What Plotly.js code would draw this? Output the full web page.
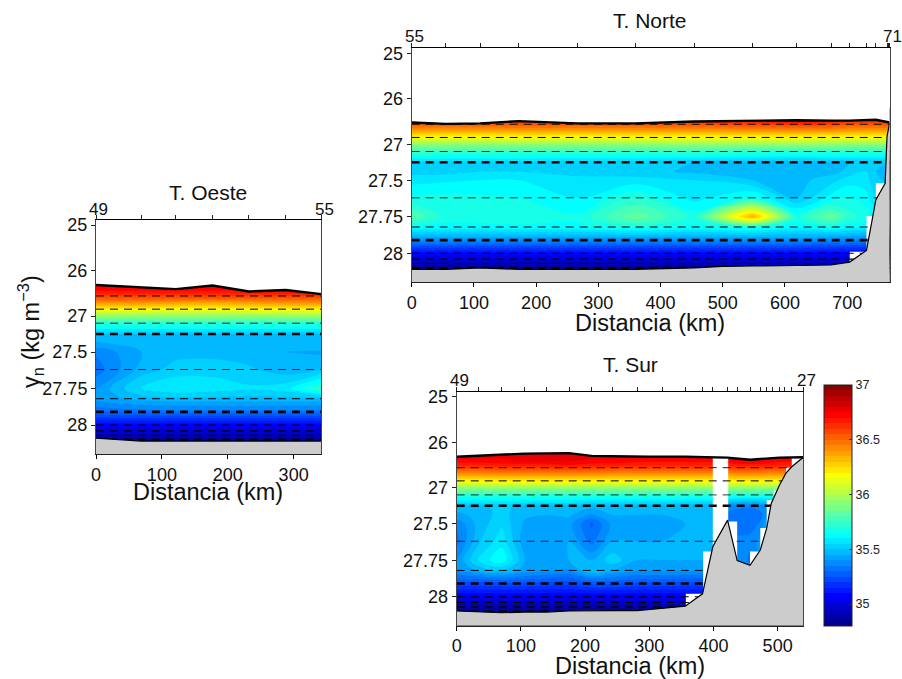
<!DOCTYPE html>
<html><head><meta charset="utf-8">
<script src="https://cdn.plot.ly/plotly-3.0.1.min.js"></script>
<style>html,body{margin:0;padding:0;background:#fff}#c{width:902px;height:679px}</style>
</head><body><div id="c"></div>
<script>
// ---------- DATA (km along section, neutral density, salinity) ----------
const yTickG = [25, 26, 27, 27.5, 27.75, 28];
const yTickText = ['25', '26', '27', '27.5', '27.75', '28'];
const dashG = [26.56, 26.85, 27.1, 27.25, 27.62, 27.82, 27.91, 28, 28.04, 28.07, 28.1];
const rowsG = [26.2, 26.4, 26.5, 26.6, 26.7, 26.85, 27, 27.1, 27.25, 27.38, 27.5, 27.62, 27.75, 27.82, 27.9, 28, 28.05, 28.1, 28.25];

// T. Norte
const northStations = [0, 55, 110, 172, 266, 360, 454, 548, 619, 674, 704, 731, 746, 764, 766, 768];
const northCols = [0, 55, 110, 172, 266, 360, 454, 548, 619, 674, 704, 731, 746, 768];
const northSurfKm = [0, 55, 110, 172, 266, 360, 454, 548, 619, 674, 704, 746, 768];
const northSurfG = [26.52, 26.55, 26.54, 26.49, 26.54, 26.54, 26.5, 26.48, 26.47, 26.48, 26.48, 26.46, 26.52];
const northBotKm = [0, 55, 110, 172, 266, 360, 454, 500, 548, 619, 674, 704, 731, 741, 746, 761, 764, 768];
const northBotG = [28.11, 28.11, 28.1, 28.11, 28.11, 28.11, 28.1, 28.09, 28.087, 28.085, 28.08, 28.06, 27.98, 27.75, 27.635, 27.52, 26.83, 26.54];
const northGapKm = [704, 731, 731, 704, null, 731, 746, 746, 731, null, 746, 761, 761, 746];
const northGapG = [27.99, 27.99, 28.1, 28.1, null, 27.745, 27.745, 28.0, 28.0, null, 27.52, 27.52, 27.8, 27.8];
const northZ = [
 [36.70,36.70,36.70,36.70,36.70,36.70,36.70,36.74,36.76,36.74,36.70,36.70,36.70,36.70],
 [36.68,36.68,36.68,36.68,36.68,36.68,36.68,36.72,36.74,36.72,36.68,36.68,36.68,36.68],
 [36.62,36.60,36.62,36.63,36.62,36.62,36.64,36.66,36.70,36.66,36.62,36.62,36.62,36.62],
 [36.50,36.49,36.49,36.50,36.50,36.50,36.51,36.53,36.55,36.53,36.50,36.50,36.50,36.50],
 [36.38,36.37,36.37,36.38,36.38,36.38,36.39,36.40,36.41,36.40,36.39,36.38,36.38,36.38],
 [36.17,36.16,36.16,36.17,36.16,36.17,36.17,36.18,36.18,36.17,36.17,36.17,36.16,36.16],
 [35.94,35.93,35.93,35.94,35.93,35.94,35.95,35.95,35.95,35.94,35.93,35.93,35.93,35.93],
 [35.76,35.75,35.75,35.75,35.74,35.74,35.74,35.72,35.72,35.72,35.72,35.72,35.72,35.72],
 [35.54,35.53,35.53,35.53,35.52,35.52,35.50,35.49,35.47,35.49,35.50,35.50,35.50,35.50],
 [35.53,35.53,35.55,35.55,35.53,35.52,35.49,35.47,35.46,35.48,35.52,35.55,35.50,35.47],
 [35.58,35.59,35.60,35.60,35.57,35.57,35.55,35.50,35.48,35.53,35.58,35.57,35.51,35.49],
 [35.66,35.67,35.66,35.65,35.60,35.70,35.58,35.66,35.50,35.62,35.65,35.62,35.55,35.50],
 [35.80,35.68,35.68,35.68,35.66,35.84,35.68,36.36,35.68,35.84,35.72,35.68,35.60,35.55],
 [35.64,35.63,35.63,35.64,35.64,35.68,35.64,35.68,35.62,35.66,35.62,35.60,35.55,35.50],
 [35.42,35.42,35.42,35.42,35.42,35.42,35.42,35.42,35.42,35.40,35.40,35.38,35.36,35.35],
 [35.08,35.08,35.08,35.08,35.08,35.08,35.08,35.08,35.08,35.07,35.07,35.07,35.06,35.06],
 [34.97,34.97,34.97,34.97,34.97,34.97,34.97,34.97,34.97,34.97,34.97,34.97,34.96,34.96],
 [34.86,34.86,34.86,34.86,34.86,34.86,34.86,34.86,34.86,34.86,34.86,34.86,34.86,34.86],
 [34.82,34.82,34.82,34.82,34.82,34.82,34.82,34.82,34.82,34.82,34.82,34.82,34.82,34.82]
];

// T. Oeste
const westStations = [0, 69, 121, 177, 232, 288, 342];
const westSurfG = [26.32, 26.37, 26.41, 26.33, 26.46, 26.43, 26.52];
const westBotKm = [0, 69, 121, 177, 232, 288, 342];
const westBotG = [28.09, 28.11, 28.11, 28.11, 28.11, 28.11, 28.11];
const westZ = [
 [36.78,36.78,36.78,36.78,36.78,36.78,36.78],
 [36.73,36.73,36.73,36.73,36.73,36.73,36.73],
 [36.66,36.66,36.66,36.66,36.66,36.68,36.66],
 [36.55,36.55,36.55,36.55,36.55,36.55,36.55],
 [36.42,36.42,36.40,36.38,36.40,36.42,36.42],
 [36.19,36.19,36.17,36.17,36.19,36.19,36.20],
 [35.94,35.93,35.93,35.93,35.93,35.94,35.94],
 [35.72,35.72,35.72,35.72,35.72,35.72,35.72],
 [35.50,35.50,35.50,35.50,35.50,35.50,35.50],
 [35.44,35.48,35.49,35.49,35.48,35.48,35.49],
 [35.36,35.45,35.48,35.48,35.47,35.45,35.44],
 [35.32,35.47,35.52,35.53,35.51,35.47,35.50],
 [35.40,35.56,35.60,35.58,35.56,35.58,35.72],
 [35.42,35.47,35.48,35.48,35.48,35.48,35.48],
 [35.32,35.34,35.35,35.35,35.35,35.35,35.35],
 [35.07,35.07,35.07,35.07,35.07,35.07,35.07],
 [34.97,34.97,34.97,34.97,34.97,34.97,34.97],
 [34.86,34.86,34.86,34.86,34.86,34.86,34.86],
 [34.82,34.82,34.82,34.82,34.82,34.82,34.82]
];

// T. Sur
const southStations = [0, 34, 70, 106, 140, 175, 210, 243, 281, 320, 356, 383, 399, 422, 437, 457, 473, 483, 492, 503, 511, 522, 540];
const southCols = [0, 34, 70, 106, 140, 175, 210, 243, 281, 320, 356, 383, 399, 422, 437, 457, 473, 483, 503, 540];
const southSurfKm = [0, 70, 106, 175, 210, 300, 356, 422, 457, 503, 540];
const southSurfG = [26.32, 26.275, 26.25, 26.24, 26.30, 26.32, 26.32, 26.34, 26.385, 26.34, 26.33];
const southBotKm = [0, 34, 70, 106, 140, 175, 210, 243, 281, 320, 356, 383, 391, 399, 422, 437, 457, 473, 483, 490, 503, 513, 522, 540];
const southBotG = [28.098, 28.105, 28.11, 28.105, 28.105, 28.098, 28.095, 28.095, 28.095, 28.08, 28.065, 27.98, 27.817, 27.658, 27.45, 27.753, 27.785, 27.68, 27.53, 27.22, 26.94, 26.68, 26.54, 26.33];
const southGapKm = [399, 423, 423, 399, null, 384, 399, 399, 384, null, 357, 383, 383, 357, null, 423, 437, 437, 423, null, 457, 473, 473, 457, null, 473, 483, 483, 473, null, 483, 491, 491, 483, null, 494, 503, 503, 494, null, 503, 513, 513, 503, null, 513, 522, 522, 513, null, 522, 540, 540, 522];
const southGapG = [26.2, 26.2, 27.7, 27.7, null, 27.69, 27.69, 28, 28, null, 27.98, 27.98, 28.1, 28.1, null, 27.47, 27.47, 27.8, 27.8, null, 27.69, 27.69, 27.8, 27.8, null, 27.53, 27.53, 27.7, 27.7, null, 27.17, 27.17, 27.55, 27.55, null, 27.04, 27.04, 27.25, 27.25, null, 26.92, 26.92, 27.0, 27.0, null, 26.56, 26.56, 26.7, 26.7, null, 26.34, 26.34, 26.55, 26.55];
const southZ = [
 [36.78,36.78,36.78,36.80,36.80,36.80,36.78,36.78,36.78,36.78,36.78,36.78,36.78,36.78,36.78,36.78,36.78,36.78,36.78,36.78],
 [36.74,36.74,36.74,36.76,36.76,36.76,36.74,36.74,36.72,36.72,36.72,36.72,36.72,36.74,36.76,36.76,36.76,36.74,36.72,36.72],
 [36.66,36.66,36.68,36.68,36.68,36.70,36.68,36.68,36.66,36.66,36.66,36.66,36.66,36.66,36.68,36.68,36.68,36.68,36.66,36.66],
 [36.54,36.54,36.56,36.56,36.56,36.56,36.56,36.54,36.54,36.54,36.54,36.54,36.54,36.54,36.56,36.56,36.56,36.54,36.54,36.54],
 [36.41,36.41,36.42,36.42,36.42,36.42,36.42,36.41,36.41,36.41,36.41,36.41,36.41,36.41,36.42,36.42,36.42,36.41,36.41,36.41],
 [36.19,36.19,36.20,36.20,36.20,36.20,36.20,36.19,36.19,36.19,36.19,36.19,36.19,36.19,36.20,36.20,36.20,36.19,36.19,36.19],
 [35.94,35.94,35.95,35.95,35.95,35.95,35.94,35.94,35.94,35.94,35.94,35.94,35.94,35.94,35.94,35.94,35.94,35.94,35.94,35.94],
 [35.72,35.72,35.72,35.72,35.72,35.72,35.72,35.72,35.72,35.72,35.72,35.72,35.72,35.70,35.70,35.70,35.70,35.70,35.70,35.70],
 [35.49,35.49,35.51,35.49,35.49,35.49,35.47,35.48,35.48,35.48,35.47,35.47,35.47,35.40,35.37,35.36,35.38,35.40,35.42,35.42],
 [35.43,35.47,35.52,35.46,35.45,35.46,35.39,35.45,35.45,35.45,35.45,35.45,35.45,35.33,35.31,35.31,35.33,35.38,35.43,35.43],
 [35.36,35.47,35.54,35.44,35.42,35.42,35.29,35.42,35.44,35.42,35.45,35.47,35.47,35.33,35.33,35.31,35.36,35.43,35.43,35.43],
 [35.33,35.49,35.58,35.42,35.42,35.45,35.33,35.45,35.45,35.45,35.47,35.48,35.48,35.37,35.36,35.38,35.41,35.43,35.43,35.43],
 [35.40,35.56,35.64,35.45,35.43,35.45,35.45,35.53,35.45,35.45,35.45,35.45,35.45,35.43,35.41,35.33,35.41,35.43,35.43,35.43],
 [35.40,35.46,35.50,35.43,35.41,35.39,35.50,35.45,35.41,35.41,35.41,35.41,35.41,35.41,35.41,35.41,35.41,35.41,35.41,35.41],
 [35.25,35.25,35.26,35.26,35.25,35.24,35.28,35.28,35.26,35.26,35.25,35.25,35.25,35.25,35.25,35.25,35.25,35.25,35.25,35.25],
 [35.05,35.05,35.05,35.05,35.05,35.05,35.05,35.05,35.05,35.05,35.05,35.05,35.05,35.05,35.05,35.05,35.05,35.05,35.05,35.05],
 [34.95,34.95,34.95,34.95,34.95,34.95,34.95,34.95,34.95,34.95,34.95,34.95,34.95,34.95,34.95,34.95,34.95,34.95,34.95,34.95],
 [34.85,34.85,34.85,34.85,34.85,34.85,34.85,34.85,34.85,34.85,34.85,34.85,34.85,34.85,34.85,34.85,34.85,34.85,34.85,34.85],
 [34.82,34.82,34.82,34.82,34.82,34.82,34.82,34.82,34.82,34.82,34.82,34.82,34.82,34.82,34.82,34.82,34.82,34.82,34.82,34.82]
];

// ---------- STYLE ----------
const W = 902, H = 679, FONT = 'Liberation Sans, Arial, sans-serif';
const dashWidth = [0.9, 1, 0.8, 2.4, 0.8, 1, 2.6, 1.1, 1.1, 1.1, 2.2];
const jet = [[0,'rgb(0,0,128)'],[0.125,'rgb(0,0,255)'],[0.375,'rgb(0,255,255)'],[0.625,'rgb(255,255,0)'],[0.875,'rgb(255,0,0)'],[1,'rgb(128,0,0)']];
const GREY = '#cccccc';

// Stretched density axis: piecewise linear between the labelled ticks
const KG = [25, 26, 27, 27.5, 27.75, 28];
const KS = [5, 50.5, 96, 132, 168.5, 205];
function s(g) {
  if (g === null) return null;
  if (g >= 28) return 205 + (g - 28) * 146;
  for (let i = 0; i < KG.length - 1; i++)
    if (g <= KG[i + 1]) return KS[i] + (g - KG[i]) * (KS[i + 1] - KS[i]) / (KG[i + 1] - KG[i]);
}
const TOPS = 0, BOTS = 234;

const traces = [], layout = {
  width: W, height: H, margin: {l: 0, r: 0, t: 0, b: 0, autoexpand: false},
  paper_bgcolor: '#fff', plot_bgcolor: '#fff', showlegend: false,
  font: {family: FONT, color: '#111'}, annotations: []
};
function label(text, x, y, size, extra) {
  layout.annotations.push(Object.assign({xref: 'paper', yref: 'paper', x: x / W, y: 1 - y / H, xanchor: 'center', yanchor: 'middle',
    text: text, showarrow: false, font: {family: FONT, size: size, color: '#111'}}, extra || {}));
}

function panel(idx, opt) {
  const xa = idx === 1 ? 'x' : 'x' + idx, ya = idx === 1 ? 'y' : 'y' + idx;
  const topIdx = idx + 3, xt = 'x' + topIdx;
  const key = n => n === 1 ? '' : n;
  const base = {xaxis: xa, yaxis: ya, hoverinfo: 'skip', showlegend: false};
  const c = {
    type: 'contour', x: opt.cols, y: rowsG.map(s), z: opt.z, xaxis: xa, yaxis: ya,
    autocontour: false, contours: {start: 34.8, end: 37, size: 0.05, coloring: 'fill', showlines: false},
    colorscale: jet, zmin: 34.8, zmax: 37, line: {width: 0}, hoverinfo: 'skip', showscale: false
  };
  if (opt.colorbar) {
    c.showscale = true;
    c.colorbar = {
      x: 824 / W, xanchor: 'left', xpad: 0, ypad: 0, y: (H - 626) / H, yanchor: 'bottom',
      thicknessmode: 'pixels', thickness: 28, lenmode: 'pixels', len: 241,
      outlinecolor: '#222', outlinewidth: 1, tickmode: 'array', tickvals: [35, 35.5, 36, 36.5, 37],
      ticktext: ['35', '35.5', '36', '36.5', '37'], ticks: 'inside', ticklen: 3, tickcolor: '#333',
      tickfont: {family: FONT, size: 12.5, color: '#222'}
    };
  }
  traces.push(c);
  // white above the surface (runs slightly past both edges; the plot area clips it)
  const over = opt.maxKm * 0.01;
  traces.push(Object.assign({type: 'scatter', mode: 'none', fill: 'toself', fillcolor: '#fff',
    x: [-over].concat(opt.surfKm, [opt.maxKm + over, opt.maxKm + over, -over]),
    y: [s(opt.surfG[0])].concat(opt.surfG.map(s), [s(opt.surfG[opt.surfG.length - 1]), TOPS, TOPS])}, base));
  // white stair steps (no-data cells)
  if (opt.gapKm) traces.push(Object.assign({type: 'scatter', mode: 'none', fill: 'toself', fillcolor: '#fff',
    x: opt.gapKm, y: opt.gapG.map(s)}, base));
  // dashed isopycnals
  dashG.forEach((g, i) => traces.push(Object.assign({type: 'scatter', mode: 'lines', x: [0, opt.maxKm], y: [s(g), s(g)],
    line: {color: '#000', width: dashWidth[i], dash: '8px,6px'}}, base)));
  // bottom
  traces.push(Object.assign({type: 'scatter', mode: 'none', fill: 'toself', fillcolor: GREY,
    x: opt.botKm.concat([opt.maxKm, 0]), y: opt.botG.map(s).concat([BOTS, BOTS])}, base));
  traces.push(Object.assign({type: 'scatter', mode: 'lines', x: opt.botKm, y: opt.botG.map(s), line: {color: '#000', width: 1.2}}, base));
  // surface
  traces.push(Object.assign({type: 'scatter', mode: 'lines', x: opt.surfKm, y: opt.surfG.map(s), line: {color: '#000', width: 2.4}}, base));
  // station ticks on the upper axis
  traces.push({type: 'scatter', mode: 'none', x: opt.stations, y: opt.stations.map(() => s(25)), xaxis: xt, yaxis: ya, hoverinfo: 'skip', showlegend: false});

  const dx = [opt.px[0] / W, opt.px[1] / W], dy = [1 - opt.px[3] / H, 1 - opt.px[2] / H];
  layout['xaxis' + key(idx)] = {
    domain: dx, range: [0, opt.maxKm], anchor: ya, side: 'bottom', showgrid: false, zeroline: false,
    ticks: 'outside', ticklen: 4, tickcolor: '#000', linecolor: '#222', linewidth: 1, showline: true,
    tickmode: 'array', tickvals: opt.xTicks, ticktext: opt.xTicks.map(String),
    tickfont: {family: FONT, size: 18, color: '#111'}
  };
  layout['yaxis' + key(idx)] = {
    domain: dy, range: [BOTS, TOPS], anchor: xa, showgrid: false, zeroline: false, showline: true, mirror: true,
    linecolor: '#444', linewidth: 1, ticks: 'outside', ticklen: 4, tickcolor: '#222',
    tickmode: 'array', tickvals: yTickG.map(s), ticktext: yTickText,
    tickfont: {family: FONT, size: 18, color: '#111'}
  };
  layout['xaxis' + topIdx] = {
    overlaying: xa, anchor: ya, side: 'top', domain: dx, range: [0, opt.maxKm], showgrid: false, zeroline: false,
    showline: true, linecolor: '#000', linewidth: 1.2, ticks: 'outside', ticklen: 4, tickcolor: '#222',
    tickmode: 'array', tickvals: opt.stations, showticklabels: false
  };
  label(opt.title, opt.titleX, opt.titleY, 21);
  label('Distancia (km)', opt.xTitleX, opt.xTitleY, 23.5);
  label(opt.endLabels[0], opt.endPx[0], opt.endPx[2], 17);
  label(opt.endLabels[1], opt.endPx[1], opt.endPx[2], 17);
}

panel(1, {px: [411.7, 889.5, 48.3, 282.3], maxKm: 768, cols: northCols, z: northZ, stations: northStations,
  surfKm: northSurfKm, surfG: northSurfG, botKm: northBotKm, botG: northBotG, gapKm: northGapKm, gapG: northGapG,
  xTicks: [0, 100, 200, 300, 400, 500, 600, 700], endLabels: ['55', '71'], endPx: [414.8, 892, 36.3],
  title: 'T. Norte', titleX: 650, titleY: 20, xTitleX: 650, xTitleY: 323});
panel(2, {px: [96, 321.3, 220, 454], maxKm: 342, cols: westStations, z: westZ, stations: westStations,
  surfKm: westStations, surfG: westSurfG, botKm: westBotKm, botG: westBotG,
  xTicks: [0, 100, 200, 300], endLabels: ['49', '55'], endPx: [98, 324, 209],
  title: 'T. Oeste', titleX: 208, titleY: 192, xTitleX: 208, xTitleY: 491.5});
panel(3, {px: [456.7, 803.3, 391.7, 625.7], maxKm: 540, cols: southCols, z: southZ, stations: southStations,
  surfKm: southSurfKm, surfG: southSurfG, botKm: southBotKm, botG: southBotG, gapKm: southGapKm, gapG: southGapG,
  xTicks: [0, 100, 200, 300, 400, 500], endLabels: ['49', '27'], endPx: [459, 806.7, 380.5],
  title: 'T. Sur', titleX: 630, titleY: 364, xTitleX: 630, xTitleY: 665.6, colorbar: true});

label('γ<sub>n</sub> (kg m<sup>−3</sup>)', 30, 331, 23.5, {textangle: -90});

Plotly.newPlot('c', traces, layout, {displayModeBar: false, staticPlot: true});
</script></body></html>
